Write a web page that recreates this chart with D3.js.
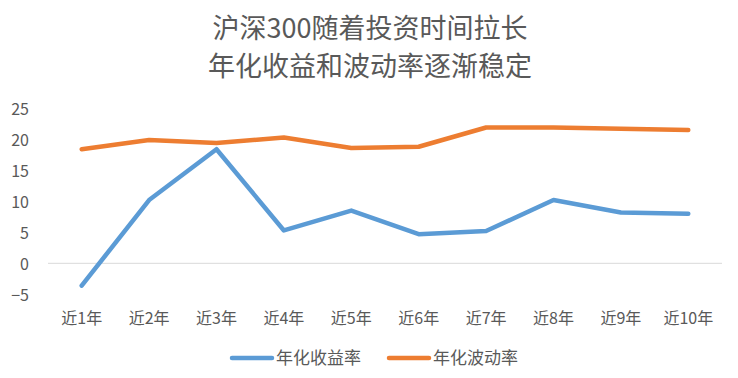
<!DOCTYPE html>
<html>
<head>
<meta charset="utf-8">
<script src="https://cdn.jsdelivr.net/npm/d3@7"></script>
<style>
  html, body { margin: 0; padding: 0; background: #fff; }
  svg { display: block; }
  text { font-family: "Noto Sans CJK SC", "Noto Sans", sans-serif; }
</style>
</head>
<body>
<svg id="chart" width="738" height="378"></svg>
<script>
const titleLines = ["沪深300随着投资时间拉长", "年化收益和波动率逐渐稳定"];
const categories = ["近1年", "近2年", "近3年", "近4年", "近5年", "近6年", "近7年", "近8年", "近9年", "近10年"];
const seriesNames = ["年化收益率", "年化波动率"];
const returnValues = [-3.6, 10.2, 18.4, 5.3, 8.5, 4.7, 5.2, 10.2, 8.2, 8.0];
const volatilityValues = [18.4, 19.9, 19.4, 20.3, 18.6, 18.8, 21.9, 21.9, 21.7, 21.5];
const yTicks = [-5, 0, 5, 10, 15, 20, 25];
const colors = ["#5b9bd5", "#ed7d31"];

const svg = d3.select("#chart");
const textColor = "#595959";

// Title
svg.append("g").selectAll("text")
  .data(titleLines)
  .join("text")
  .attr("x", 370)
  .attr("y", (d, i) => 28 + i * 38)
  .attr("dy", "0.36em")
  .attr("text-anchor", "middle")
  .attr("font-size", 27)
  .attr("fill", textColor)
  .text(d => d);

const x = d3.scaleBand().domain(categories).range([48, 722]).padding(0);
const cx = d => x(d) + x.bandwidth() / 2;
const y = d3.scaleLinear().domain([-5, 25]).range([294.3, 108.3]);

// Y axis labels
const yAxis = svg.append("g")
  .attr("transform", "translate(29,1)")
  .call(d3.axisLeft(y).tickValues(yTicks).tickSize(0).tickPadding(0).tickFormat(d3.format("d")));
yAxis.select(".domain").remove();
yAxis.selectAll("text").attr("font-size", 16).attr("fill", textColor)
  .style("font-family", "'Noto Sans CJK SC', 'Noto Sans', sans-serif");

// Zero line (category axis)
svg.append("line")
  .attr("x1", 48).attr("x2", 722)
  .attr("y1", y(0)).attr("y2", y(0))
  .attr("stroke", "#d9d9d9").attr("stroke-width", 1);

// X axis labels (low position)
const xAxis = svg.append("g")
  .attr("transform", `translate(0,${y(-5)})`)
  .call(d3.axisBottom(x).tickSize(0).tickPadding(18.4));
xAxis.select(".domain").remove();
xAxis.selectAll("text").attr("font-size", 16).attr("fill", textColor)
  .style("font-family", "'Noto Sans CJK SC', 'Noto Sans', sans-serif");

// Lines
const seriesData = [returnValues, volatilityValues];
const line = d3.line().x((d, i) => cx(categories[i])).y(d => y(d));
svg.append("g").selectAll("path")
  .data(seriesData)
  .join("path")
  .attr("d", d => line(d))
  .attr("fill", "none")
  .attr("stroke", (d, i) => colors[i])
  .attr("stroke-width", 4.5)
  .attr("stroke-linejoin", "round")
  .attr("stroke-linecap", "round");

// Legend
const legendX = [232, 389];
const legend = svg.append("g").selectAll("g")
  .data(seriesNames)
  .join("g")
  .attr("transform", (d, i) => `translate(${legendX[i]},358)`);
legend.append("line")
  .attr("x1", 0).attr("x2", 40)
  .attr("stroke", (d, i) => colors[i])
  .attr("stroke-width", 4.5)
  .attr("stroke-linecap", "round");
legend.append("text")
  .attr("x", 44)
  .attr("dy", "0.36em")
  .attr("font-size", 17)
  .attr("fill", textColor)
  .text(d => d);
</script>
</body>
</html>
